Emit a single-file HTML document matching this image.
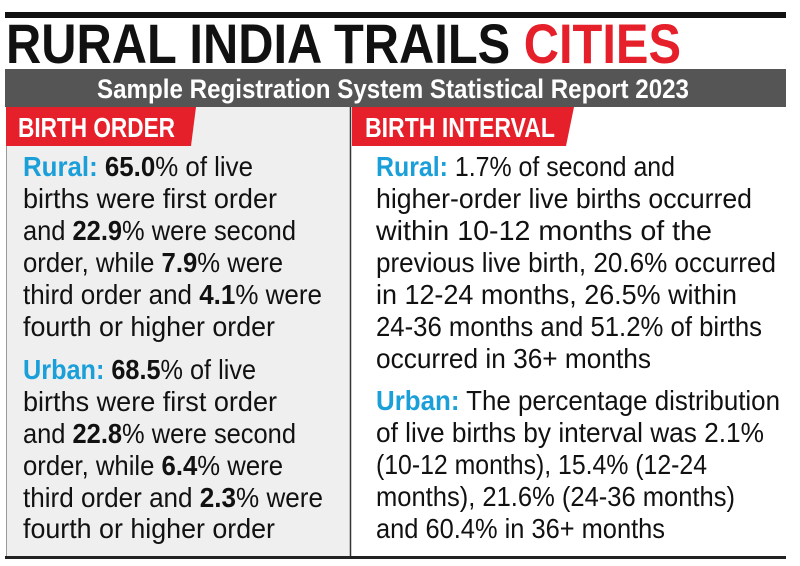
<!DOCTYPE html>
<html><head><meta charset="utf-8"><style>
html,body{margin:0;padding:0;background:#fff;}
svg{display:block;}
text{font-family:"Liberation Sans",sans-serif;}
.b{font-size:28px;fill:#111;}
.k{font-weight:bold;}
.u{font-weight:bold;fill:#1a9fd9;}
</style></head><body>
<svg width="800" height="566" viewBox="0 0 800 566" xmlns="http://www.w3.org/2000/svg">
<rect x="0" y="0" width="800" height="566" fill="#fff"/>
<rect x="5" y="12" width="781" height="6" fill="#111"/>
<text x="6" y="63" font-size="56" font-weight="bold" textLength="675" lengthAdjust="spacingAndGlyphs" fill="#111">RURAL INDIA TRAILS <tspan fill="#e5202a">CITIES</tspan></text>
<rect x="5" y="69" width="781" height="38" fill="#555"/>
<text x="97" y="98" font-size="27" font-weight="bold" fill="#fff" textLength="592" lengthAdjust="spacingAndGlyphs">Sample Registration System Statistical Report 2023</text>
<rect x="6" y="107" width="344" height="451" fill="#efefef"/>
<line x1="6.5" y1="107" x2="6.5" y2="558" stroke="#999" stroke-width="1"/>
<line x1="350.5" y1="107" x2="350.5" y2="558" stroke="#333" stroke-width="1.5"/>
<rect x="5" y="556" width="781" height="3" fill="#222"/>
<polygon points="6,107 196,107 191,146 6,146" fill="#e5202a"/>
<polygon points="352,107 574,107 566,146 352,146" fill="#e5202a"/>
<text x="18" y="137" font-size="28" font-weight="bold" fill="#fff" textLength="157" lengthAdjust="spacingAndGlyphs">BIRTH ORDER</text>
<text x="365" y="137" font-size="28" font-weight="bold" fill="#fff" textLength="190" lengthAdjust="spacingAndGlyphs">BIRTH INTERVAL</text>
<g class="b">
<text x="23" y="176" textLength="230" lengthAdjust="spacingAndGlyphs"><tspan class="u">Rural:</tspan>  <tspan class="k">65.0</tspan>% of live</text>
<text x="23" y="208" textLength="254" lengthAdjust="spacingAndGlyphs">births were first order</text>
<text x="23" y="240" textLength="273" lengthAdjust="spacingAndGlyphs">and <tspan class="k">22.9</tspan>% were second</text>
<text x="23" y="272" textLength="260" lengthAdjust="spacingAndGlyphs">order, while <tspan class="k">7.9</tspan>% were</text>
<text x="23" y="304" textLength="299" lengthAdjust="spacingAndGlyphs">third order and <tspan class="k">4.1</tspan>% were</text>
<text x="23" y="336" textLength="252" lengthAdjust="spacingAndGlyphs">fourth or higher order</text>
<text x="23" y="379" textLength="233" lengthAdjust="spacingAndGlyphs"><tspan class="u">Urban:</tspan> <tspan class="k">68.5</tspan>% of live</text>
<text x="23" y="411" textLength="254" lengthAdjust="spacingAndGlyphs">births were first order</text>
<text x="23" y="443" textLength="273" lengthAdjust="spacingAndGlyphs">and <tspan class="k">22.8</tspan>% were second</text>
<text x="23" y="475" textLength="260" lengthAdjust="spacingAndGlyphs">order, while <tspan class="k">6.4</tspan>% were</text>
<text x="23" y="507" textLength="300" lengthAdjust="spacingAndGlyphs">third order and <tspan class="k">2.3</tspan>% were</text>
<text x="23" y="538" textLength="252" lengthAdjust="spacingAndGlyphs">fourth or higher order</text>

<text x="376" y="176" textLength="299" lengthAdjust="spacingAndGlyphs"><tspan class="u">Rural:</tspan> 1.7% of second and</text>
<text x="376" y="208" textLength="376" lengthAdjust="spacingAndGlyphs">higher-order live births occurred</text>
<text x="376" y="240" textLength="336" lengthAdjust="spacingAndGlyphs">within 10-12 months of the</text>
<text x="376" y="272" textLength="400" lengthAdjust="spacingAndGlyphs">previous live birth, 20.6% occurred</text>
<text x="376" y="304" textLength="361" lengthAdjust="spacingAndGlyphs">in 12-24 months, 26.5% within</text>
<text x="376" y="336" textLength="386" lengthAdjust="spacingAndGlyphs">24-36 months and 51.2% of births</text>
<text x="376" y="368" textLength="275" lengthAdjust="spacingAndGlyphs">occurred in 36+ months</text>
<text x="376" y="410" textLength="404" lengthAdjust="spacingAndGlyphs"><tspan class="u">Urban:</tspan> The percentage distribution</text>
<text x="376" y="442" textLength="388" lengthAdjust="spacingAndGlyphs">of live births by interval was 2.1%</text>
<text x="376" y="474" textLength="331" lengthAdjust="spacingAndGlyphs">(10-12 months), 15.4% (12-24</text>
<text x="376" y="506" textLength="359" lengthAdjust="spacingAndGlyphs">months), 21.6% (24-36 months)</text>
<text x="376" y="538" textLength="289" lengthAdjust="spacingAndGlyphs">and 60.4% in 36+ months</text>
</g>
</svg>
</body></html>
